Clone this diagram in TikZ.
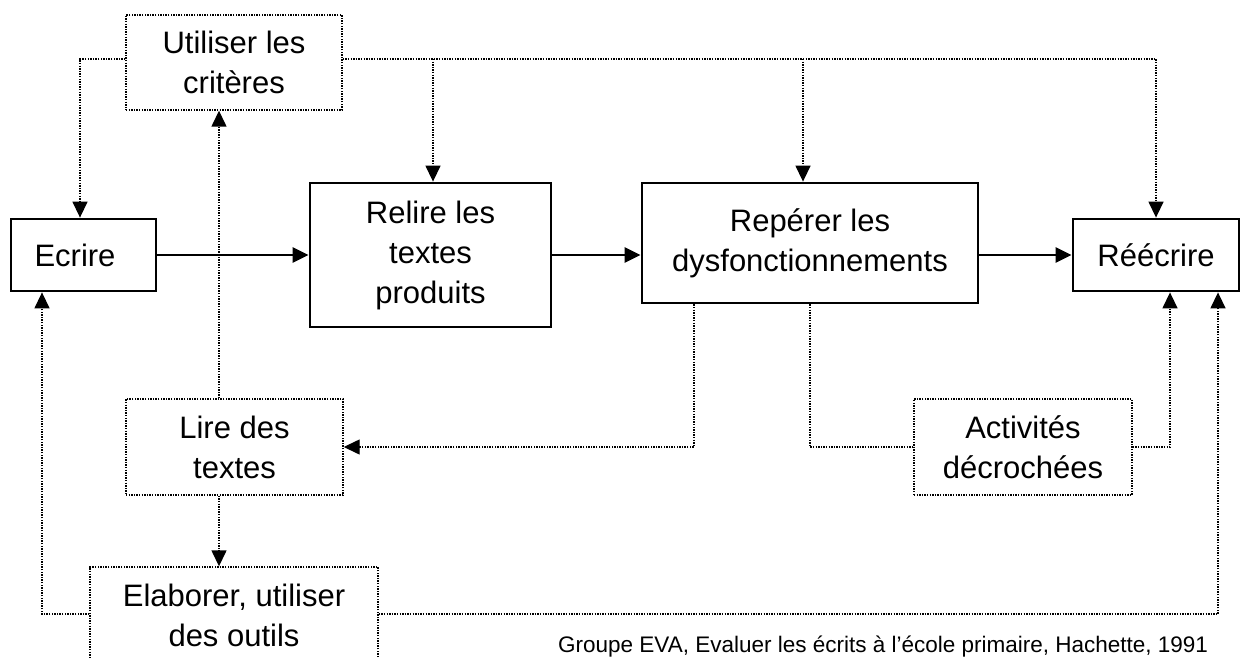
\documentclass[tikz,border=0pt]{standalone}
\usepackage{fontspec}
\setmainfont{Liberation Sans}
\usetikzlibrary{arrows.meta}
\newcommand{\mainfs}{\fontsize{31}{40}\selectfont}
\begin{document}
\begin{tikzpicture}[x=1pt,y=-1pt,
  solidbox/.style={draw, line width=2.8pt, inner sep=0pt, align=center, font=\mainfs},
  dotbox/.style={draw, line width=1.4pt, dash pattern=on 1.4pt off 1.2pt, inner sep=0pt, align=center, font=\mainfs},
  dl/.style={line width=1.4pt, dash pattern=on 1.4pt off 1.2pt},
  sl/.style={line width=2.4pt},
  tip/.style={-{Triangle[length=16pt,width=15pt]}}
]
\clip (0,0) rectangle (1242,658);
\fill[white] (0,0) rectangle (1242,658);
\node[dotbox, minimum width=216pt, minimum height=95pt] (ut) at (234,62.5) {Utiliser les\\critères};
\node[solidbox, minimum width=145pt, minimum height=72pt] (ec) at (83.5,255) {\hspace*{-17pt}Ecrire};
\node[solidbox, minimum width=241pt, minimum height=144pt] (re) at (430.5,255) {Relire les\\textes\\produits};
\node[solidbox, minimum width=336pt, minimum height=120pt] (rp) at (810,243) {Repérer les\\dysfonctionnements};
\node[solidbox, minimum width=166pt, minimum height=72pt] (rw) at (1156,255) {Réécrire};
\node[dotbox, minimum width=217pt, minimum height=96pt] (li) at (234.5,447) {Lire des\\textes};
\node[dotbox, minimum width=288pt, minimum height=96pt] (el) at (234,615) {Elaborer, utiliser\\des outils};
\node[dotbox, minimum width=218pt, minimum height=96pt] (ac) at (1023,447) {Activités\\décrochées};
\node[anchor=base west, font=\fontsize{22.5}{27}\selectfont, inner sep=0pt] (src) at (558,652) {Groupe EVA, Evaluer les écrits à l'école primaire, Hachette, 1991};
\coordinate (topy) at (0,59);
\draw[dl,tip] ([yshift=3.5pt]ut.west) -| ([xshift=-3.5pt]ec.north);
\draw[dl,tip] ([yshift=3.5pt]ut.east) -| (rw.north);
\draw[dl,tip] ([xshift=2.5pt]re.north |- topy) -- ([xshift=2.5pt]re.north);
\draw[dl,tip] ([xshift=-7pt]rp.north |- topy) -- ([xshift=-7pt]rp.north);
\draw[dl,tip] ([xshift=-15.5pt]li.north) -- ([xshift=-15.5pt]li.north |- ut.south);
\draw[dl,tip] ([xshift=-15.5pt]li.south) -- ([xshift=-15.5pt]li.south |- el.north);
\draw[dl,tip] ([yshift=1pt]el.west) -| ([xshift=-41.5pt]ec.south);
\draw[dl,tip] ([yshift=1pt]el.east) -| ([xshift=62pt]rw.south);
\draw[dl,tip] ([xshift=-116pt]rp.south) |- (li.east);
\draw[dl] (rp.south) |- (ac.west);
\draw[dl,tip] (ac.east) -| ([xshift=14pt]rw.south);
\draw[sl,tip] (ec.east) -- (ec.east -| re.west);
\draw[sl,tip] (re.east) -- (re.east -| rp.west);
\draw[sl,tip] (rw.west -| rp.east) -- (rw.west);
\end{tikzpicture}
\end{document}
